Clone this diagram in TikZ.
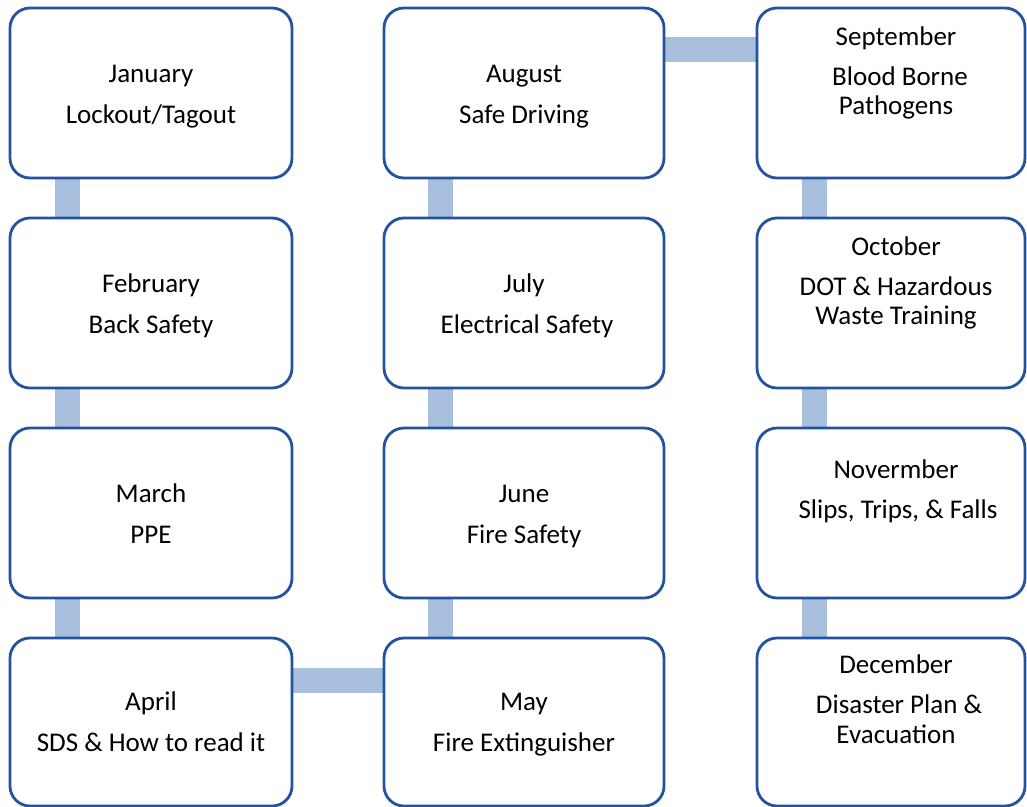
\documentclass[tikz,border=0pt]{standalone}
\usepackage{fontspec}
\setmainfont{Carlito}
\usetikzlibrary{backgrounds}
\definecolor{boxblue}{RGB}{34,82,160}
\definecolor{barblue}{RGB}{168,192,222}
\begin{document}
\begin{tikzpicture}[x=1pt,y=-1pt,
  box/.style={draw=boxblue, line width=2.8pt, rounded corners=20pt, fill=white, inner sep=0pt, outer sep=0pt},
  c1/.style={box, minimum width=282pt},
  c2/.style={box, minimum width=280pt},
  c3/.style={box, minimum width=268pt},
  tall/.style={minimum height=170pt},
  short/.style={minimum height=168pt},
  txt/.style={anchor=base, inner sep=0pt, font=\fontsize{27}{30}\selectfont},
  bar/.style={draw=barblue, line width=25pt}]
\useasboundingbox (0,0) rectangle (1027,806);
% boxes
\node[c1,tall]  (jan) at (151,93)  {};
\node[c1,tall]  (feb) at (151,303) {};
\node[c1,tall]  (mar) at (151,513) {};
\node[c1,short] (apr) at (151,722) {};
\node[c2,tall]  (aug) at (524,93)  {};
\node[c2,tall]  (jul) at (524,303) {};
\node[c2,tall]  (jun) at (524,513) {};
\node[c2,short] (may) at (524,722) {};
\node[c3,tall]  (sep) at (891,93)  {};
\node[c3,tall]  (oct) at (891,303) {};
\node[c3,tall]  (nov) at (891,513) {};
\node[c3,short] (dec) at (891,722) {};
% connectors
\begin{scope}[on background layer]
\draw[bar] ([xshift=57.5pt]jan.south west) -- ([xshift=57.5pt]feb.north west);
\draw[bar] ([xshift=57.5pt]feb.south west) -- ([xshift=57.5pt]mar.north west);
\draw[bar] ([xshift=57.5pt]mar.south west) -- ([xshift=57.5pt]apr.north west);
\draw[bar] ([yshift=-42pt]apr.north east) -- ([yshift=-42pt]may.north west);
\draw[bar] ([xshift=56.5pt]may.north west) -- ([xshift=56.5pt]jun.south west);
\draw[bar] ([xshift=56.5pt]jun.north west) -- ([xshift=56.5pt]jul.south west);
\draw[bar] ([xshift=56.5pt]jul.north west) -- ([xshift=56.5pt]aug.south west);
\draw[bar] ([yshift=-41.5pt]aug.north east) -- ([yshift=-41.5pt]sep.north west);
\draw[bar] ([xshift=57pt]sep.south west) -- ([xshift=57pt]oct.north west);
\draw[bar] ([xshift=57pt]oct.south west) -- ([xshift=57pt]nov.north west);
\draw[bar] ([xshift=57pt]nov.south west) -- ([xshift=57pt]dec.north west);
\end{scope}
% texts column 1
\node[txt] (t-jan-a) at (151,82)  {January};
\node[txt] (t-jan-b) at (151,123) {Lockout/Tagout};
\node[txt] (t-feb-a) at (151,292) {February};
\node[txt] (t-feb-b) at (151,333) {Back Safety};
\node[txt] (t-mar-a) at (151,502) {March};
\node[txt] (t-mar-b) at (151,543) {PPE};
\node[txt] (t-apr-a) at (151,710) {April};
\node[txt] (t-apr-b) at (151,751) {SDS \& How to read it};
% texts column 2
\node[txt] (t-aug-a) at (524,82)  {August};
\node[txt] (t-aug-b) at (524,123) {Safe Driving};
\node[txt] (t-jul-a) at (524,292) {July};
\node[txt] (t-jul-b) at (527,333) {Electrical Safety};
\node[txt] (t-jun-a) at (524,502) {June};
\node[txt] (t-jun-b) at (524,543) {Fire Safety};
\node[txt] (t-may-a) at (524,710) {May};
\node[txt] (t-may-b) at (524,751) {Fire Extinguisher};
% texts column 3
\node[txt] (t-sep-a) at (896,45)  {September};
\node[txt] (t-sep-b) at (900,85)  {Blood Borne};
\node[txt] (t-sep-c) at (896,114) {Pathogens};
\node[txt] (t-oct-a) at (896,255) {October};
\node[txt] (t-oct-b) at (896,295) {DOT \& Hazardous};
\node[txt] (t-oct-c) at (896,324) {Waste Training};
\node[txt] (t-nov-a) at (896,478) {Novermber};
\node[txt] (t-nov-b) at (898,518) {Slips, Trips, \& Falls};
\node[txt] (t-dec-a) at (896,673) {December};
\node[txt] (t-dec-b) at (899,713) {Disaster Plan \&};
\node[txt] (t-dec-c) at (896,743) {Evacuation};
\end{tikzpicture}
\end{document}
